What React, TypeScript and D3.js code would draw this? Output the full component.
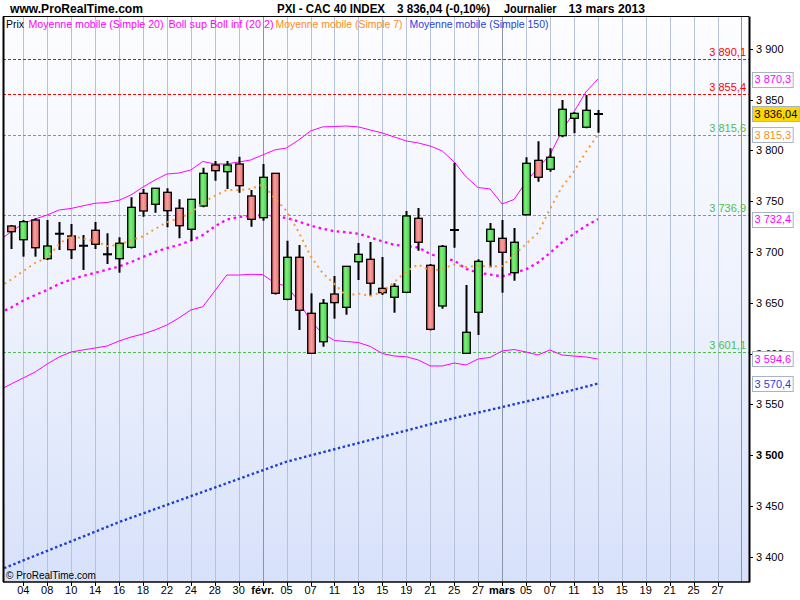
import React from "react";
import * as d3 from "d3";

// ---------- DATA ----------
// trading days (index 0 = 2 Jan 2013, only used by the indicators, off the left edge)
const tradingDates: string[] = [
  "2013-01-02", "2013-01-03", "2013-01-04", "2013-01-07", "2013-01-08", "2013-01-09", "2013-01-10", "2013-01-11",
  "2013-01-14", "2013-01-15", "2013-01-16", "2013-01-17", "2013-01-18", "2013-01-21", "2013-01-22", "2013-01-23",
  "2013-01-24", "2013-01-25", "2013-01-28", "2013-01-29", "2013-01-30", "2013-01-31", "2013-02-01", "2013-02-04",
  "2013-02-05", "2013-02-06", "2013-02-07", "2013-02-08", "2013-02-11", "2013-02-12", "2013-02-13", "2013-02-14",
  "2013-02-15", "2013-02-18", "2013-02-19", "2013-02-20", "2013-02-21", "2013-02-22", "2013-02-25", "2013-02-26",
  "2013-02-27", "2013-02-28", "2013-03-01", "2013-03-04", "2013-03-05", "2013-03-06", "2013-03-07", "2013-03-08",
  "2013-03-11", "2013-03-12", "2013-03-13", "2013-03-14", "2013-03-15", "2013-03-18", "2013-03-19", "2013-03-20",
  "2013-03-21", "2013-03-22", "2013-03-25", "2013-03-26", "2013-03-27", "2013-03-28", "2013-04-02",
];
const monthNames: string[] = ["janv.", "févr.", "mars", "avr."];

// candles: 3 Jan -> 13 Mar 2013 (index 1..50)
const open: number[] = [
  3725.6, 3712.1, 3731.5, 3693.4, 3718.0, 3715.8, 3706.2, 3721.4, 3697.7, 3693.4,
  3704.6, 3757.8, 3747.0, 3758.8, 3743.1, 3722.4, 3745.3, 3785.7, 3779.1, 3786.7,
  3755.2, 3733.8, 3777.5, 3653.4, 3694.8, 3639.6, 3611.6, 3658.6, 3645.5, 3690.4,
  3692.8, 3664.2, 3655.4, 3660.3, 3733.2, 3686.9, 3646.8, 3721.7, 3600.2, 3640.6,
  3710.5, 3713.5, 3679.6, 3736.7, 3790.3, 3781.5, 3814.6, 3831.7, 3822.9, 3836.3,
];
const high: number[] = [
  3726.6, 3731.5, 3733.2, 3731.5, 3729.6, 3727.6, 3716.7, 3729.6, 3718.4, 3714.5,
  3753.9, 3762.1, 3763.1, 3762.8, 3751.9, 3752.2, 3783.1, 3789.7, 3789.7, 3793.9,
  3761.1, 3786.7, 3777.8, 3711.1, 3706.9, 3659.3, 3653.7, 3676.4, 3686.2, 3708.9,
  3709.9, 3695.1, 3669.2, 3740.4, 3743.4, 3688.2, 3706.9, 3788.0, 3667.5, 3692.8,
  3728.6, 3731.5, 3723.6, 3793.3, 3809.1, 3802.2, 3849.8, 3837.6, 3854.7, 3839.9,
];
const low: number[] = [
  3703.0, 3695.4, 3695.4, 3692.1, 3702.0, 3693.1, 3682.3, 3703.0, 3688.2, 3679.6,
  3703.5, 3734.8, 3738.7, 3724.3, 3713.5, 3711.1, 3744.0, 3770.3, 3762.1, 3758.4,
  3724.9, 3730.8, 3658.1, 3652.5, 3623.2, 3599.5, 3606.7, 3634.3, 3638.2, 3672.4,
  3656.9, 3657.6, 3640.2, 3659.5, 3701.3, 3622.7, 3644.1, 3704.2, 3600.0, 3618.2,
  3684.9, 3659.9, 3671.7, 3736.0, 3769.3, 3779.1, 3813.0, 3816.9, 3822.0, 3817.5,
];
const close: number[] = [
  3720.0, 3729.9, 3704.2, 3705.9, 3718.0, 3702.3, 3706.2, 3707.6, 3697.7, 3708.6,
  3744.0, 3740.4, 3762.8, 3740.7, 3725.9, 3751.9, 3777.5, 3780.1, 3785.7, 3765.3,
  3732.2, 3773.6, 3659.3, 3694.8, 3642.6, 3600.2, 3649.5, 3650.1, 3685.9, 3697.7,
  3669.2, 3659.9, 3666.2, 3735.5, 3709.6, 3623.8, 3705.6, 3721.7, 3620.9, 3690.8,
  3722.4, 3699.7, 3709.6, 3787.4, 3773.6, 3793.3, 3840.6, 3836.6, 3839.6, 3836.04,
];

// indicators: 2 Jan -> 13 Mar 2013 (index 0..50)
const ma7: number[] = [
  3665.5, 3672.9, 3681.3, 3689.2, 3694.6, 3707.9, 3716.1, 3713.1, 3710.8, 3705.9,
  3706.9, 3711.8, 3715.3, 3722.7, 3729.3, 3733.2, 3738.4, 3748.6, 3755.2, 3761.1,
  3761.1, 3762.1, 3766.5, 3753.2, 3740.4, 3719.7, 3696.1, 3679.3, 3668.5, 3656.7,
  3659.1, 3656.7, 3660.6, 3670.4, 3680.8, 3687.7, 3681.3, 3683.3, 3687.7, 3685.2,
  3686.7, 3685.5, 3686.2, 3697.0, 3707.9, 3718.7, 3742.4, 3764.0, 3779.3, 3798.5,
  3815.3,
];
const ma20: number[] = [
  3639.9, 3645.3, 3652.2, 3657.6, 3662.6, 3668.5, 3672.9, 3676.4, 3679.5, 3682.6,
  3685.7, 3690.1, 3695.1, 3699.8, 3703.9, 3706.9, 3711.3, 3716.6, 3725.1, 3732.0,
  3734.5, 3735.5, 3736.5, 3735.0, 3733.5, 3730.0, 3726.1, 3722.9, 3720.4, 3719.4,
  3718.1, 3714.3, 3710.5, 3706.9, 3705.9, 3704.4, 3698.0, 3694.1, 3691.6, 3683.3,
  3679.6, 3677.8, 3675.9, 3679.3, 3682.8, 3689.7, 3699.0, 3709.4, 3718.0, 3725.6,
  3732.4,
];
const bollUp: number[] = [
  3711.3, 3720.2, 3728.1, 3732.5, 3736.5, 3741.4, 3742.9, 3745.5, 3748.0, 3748.8,
  3750.9, 3756.2, 3764.0, 3770.9, 3776.8, 3777.8, 3780.8, 3789.2, 3786.7, 3786.7,
  3788.7, 3790.6, 3795.6, 3800.5, 3802.5, 3810.3, 3819.2, 3823.2, 3823.6, 3824.1,
  3823.2, 3820.2, 3817.2, 3813.3, 3809.4, 3807.4, 3804.4, 3799.5, 3788.7, 3773.9,
  3763.5, 3762.1, 3747.3, 3751.7, 3769.0, 3782.8, 3795.6, 3819.2, 3837.9, 3857.6,
  3870.3,
];
const bollLow: number[] = [
  3564.0, 3570.0, 3575.9, 3581.8, 3589.7, 3596.6, 3601.5, 3603.5, 3605.4, 3607.4,
  3612.3, 3616.2, 3619.2, 3623.2, 3628.1, 3635.0, 3642.9, 3646.1, 3661.6, 3677.3,
  3677.3, 3678.0, 3677.8, 3669.5, 3666.2, 3651.7, 3632.0, 3619.7, 3612.8, 3611.8,
  3610.8, 3606.9, 3600.0, 3597.5, 3596.8, 3593.6, 3587.7, 3587.7, 3590.6, 3588.7,
  3594.6, 3596.1, 3602.5, 3603.9, 3601.5, 3598.5, 3603.5, 3598.5, 3597.5, 3596.6,
  3594.6,
];
const ma150: number[] = [
  3386.7, 3391.4, 3396.1, 3400.9, 3405.6, 3410.3, 3415.0, 3419.7, 3424.4, 3429.2,
  3433.9, 3438.2, 3442.4, 3446.7, 3450.9, 3455.2, 3459.4, 3463.7, 3467.9, 3472.2,
  3476.4, 3480.7, 3484.9, 3489.2, 3493.4, 3496.5, 3499.6, 3502.6, 3505.7, 3508.8,
  3511.8, 3514.9, 3518.0, 3521.1, 3524.1, 3527.2, 3530.3, 3533.3, 3536.4, 3539.1,
  3541.8, 3544.5, 3547.2, 3550.0, 3552.7, 3555.4, 3558.1, 3561.3, 3564.3, 3567.3,
  3570.4,
];

const redLevels: number[] = [3890.1, 3855.4];
const greenLevels: number[] = [3815.6, 3736.9, 3601.1];
const lastPrice = 3836.04;
const lastChangePct = -0.1;

const legendItems: { text: string; color: string; x: number; w: number }[] = [
  { text: "Prix", color: "#000000", x: 6, w: 18 },
  { text: "Moyenne mobile (Simple 20)", color: "#ff00ff", x: 28.5, w: 135 },
  { text: "Boll sup Boll inf (20 2)", color: "#ff00ff", x: 168.5, w: 105 },
  { text: "Moyenne mobile (Simple 7)", color: "#ff8c1a", x: 275.5, w: 127 },
  { text: "Moyenne mobile (Simple 150)", color: "#1f3fe0", x: 409.5, w: 139 },
];

// ---------- LAYOUT ----------
const W = 800;
const H = 600;
const PL = 3;
const PR = 749;
const PT = 16.5;
const PB = 582;
const FONT = "'Liberation Sans', Arial, sans-serif";

const loc = d3.formatLocale({ decimal: ",", thousands: " ", grouping: [3], currency: ["", "€"], minus: "-" });
const fmt0 = loc.format(",.0f");
const fmt1 = loc.format(",.1f");
const fmt2 = loc.format(",.2f");

const textW = (s: string) => {
  let w = 0;
  for (const ch of s) w += /[0-9]/.test(ch) ? 0.556 : 0.278;
  return w * 11;
};

export default function App() {
  const x = d3.scaleLinear().domain([0, 62]).range([-0.67, -0.67 + 62 * 11.97]);
  const y = d3.scaleLinear().domain([3374.9, 3931.5]).range([PB, PT + 0.5]);

  const line = d3
    .line<number>()
    .x((_, i) => x(i))
    .y((d) => y(d));

  const xTicks: { p: number; label: string; month: boolean }[] = [];
  for (let p = 2; p < tradingDates.length; p += 2) {
    const d = tradingDates[p];
    const prev = tradingDates[p - 1];
    const month = d.slice(5, 7) !== prev.slice(5, 7);
    const label = month ? monthNames[+d.slice(5, 7) - 1] : d.slice(8, 10);
    xTicks.push({ p, label, month });
  }

  const yTicks = y.ticks(10).filter((v) => v >= 3400 && v <= 3900);

  const boxes = [
    { v: bollUp[bollUp.length - 1], color: "#ff00ff", fill: "#ffffff", text: fmt1(bollUp[bollUp.length - 1]) },
    { v: lastPrice, color: "#000000", fill: "#ffd700", text: fmt2(lastPrice) },
    { v: ma7[ma7.length - 1], color: "#ff8c1a", fill: "#ffffff", text: fmt1(ma7[ma7.length - 1]) },
    { v: ma20[ma20.length - 1], color: "#ff00ff", fill: "#ffffff", text: fmt1(ma20[ma20.length - 1]) },
    { v: bollLow[bollLow.length - 1], color: "#ff00ff", fill: "#ffffff", text: fmt1(bollLow[bollLow.length - 1]) },
    { v: ma150[ma150.length - 1], color: "#1f3fe0", fill: "#ffffff", text: fmt1(ma150[ma150.length - 1]) },
  ];

  return (
    <svg
      width={W}
      height={H}
      viewBox={`0 0 ${W} ${H}`}
      style={{ position: "absolute", left: 0, top: 0, background: "#ffffff" }}
      fontFamily={FONT}
    >
      <defs>
        <linearGradient id="bg" x1="0" y1="0" x2="0" y2="1">
          <stop offset="0%" stopColor="#fdfdff" />
          <stop offset="50%" stopColor="#eef2fd" />
          <stop offset="100%" stopColor="#d7e1fa" />
        </linearGradient>
        <linearGradient id="gGreen" x1="0" y1="0" x2="1" y2="0">
          <stop offset="0%" stopColor="#48d448" />
          <stop offset="40%" stopColor="#7cee7c" />
          <stop offset="100%" stopColor="#44cc44" />
        </linearGradient>
        <linearGradient id="gRed" x1="0" y1="0" x2="1" y2="0">
          <stop offset="0%" stopColor="#e86464" />
          <stop offset="45%" stopColor="#f7a0a0" />
          <stop offset="100%" stopColor="#e86a6a" />
        </linearGradient>
        <clipPath id="plotClip">
          <rect x={PL} y={PT} width={PR - PL} height={PB - PT} />
        </clipPath>
      </defs>

      {/* header */}
      <text x={10} y={13} fontSize={12} fontWeight="bold" textLength={133} lengthAdjust="spacingAndGlyphs">
        www.ProRealTime.com
      </text>
      <text x={277} y={13} fontSize={12} fontWeight="bold" textLength={108} lengthAdjust="spacingAndGlyphs">
        PXI - CAC 40 INDEX
      </text>
      <text x={397} y={13} fontSize={12} fontWeight="bold" textLength={93} lengthAdjust="spacingAndGlyphs">
        {`${fmt2(lastPrice)} (${loc.format(".2f")(lastChangePct)}%)`}
      </text>
      <text x={504} y={13} fontSize={12} fontWeight="bold" textLength={52.5} lengthAdjust="spacingAndGlyphs">
        Journalier
      </text>
      <text x={568.5} y={13} fontSize={12} fontWeight="bold" textLength={76.5} lengthAdjust="spacingAndGlyphs">
        13 mars 2013
      </text>

      {/* plot background */}
      <rect x={PL} y={PT} width={PR - PL} height={PB - PT} fill="url(#bg)" />

      <g clipPath="url(#plotClip)">
        {/* vertical grid */}
        {xTicks.map((t) => (
          <line
            key={"g" + t.p}
            x1={Math.round(x(t.p)) + 0.5}
            x2={Math.round(x(t.p)) + 0.5}
            y1={PT}
            y2={PB}
            stroke={t.month ? "#8a94a8" : "#b6c1da"}
            strokeWidth={1}
          />
        ))}

        {/* horizontal levels */}
        {redLevels.map((v) => (
          <g key={"r" + v}>
            <line x1={PL} x2={PR} y1={Math.round(y(v)) + 0.5} y2={Math.round(y(v)) + 0.5} stroke="#ff0000" strokeDasharray="3,2" />
            <text x={746} y={Math.round(y(v)) - 3} fontSize={11} fill="#ff0000" textAnchor="end">
              {fmt1(v)}
            </text>
          </g>
        ))}
        {greenLevels.map((v) => (
          <g key={"gl" + v}>
            <line x1={PL} x2={PR} y1={Math.round(y(v)) + 0.5} y2={Math.round(y(v)) + 0.5} stroke="#4cbf4c" strokeDasharray="3,2" />
            <text x={746} y={Math.round(y(v)) - 3} fontSize={11} fill="#4cbf4c" textAnchor="end">
              {fmt1(v)}
            </text>
          </g>
        ))}

        {/* indicators */}
        <path d={line(ma150) || ""} fill="none" stroke="#1f3fd0" strokeWidth={2.4} strokeDasharray="2.5,2.5" />
        <path d={line(bollUp) || ""} fill="none" stroke="#ff00ff" strokeWidth={1} />
        <path d={line(bollLow) || ""} fill="none" stroke="#ff00ff" strokeWidth={1} />
        <path d={line(ma20) || ""} fill="none" stroke="#ff00ff" strokeWidth={2.3} strokeDasharray="2.6,3.6" />

        {/* candles */}
        {close.map((c, k) => {
          const p = k + 1;
          const o = open[k];
          const cx = Math.round(x(p)) + 0.5;
          const yo = y(o);
          const yc = y(c);
          const flat = Math.abs(yo - yc) < 1.2;
          return (
            <g key={"c" + p}>
              <line x1={cx} x2={cx} y1={y(high[k])} y2={y(low[k])} stroke="#000" strokeWidth={2} />
              {flat ? (
                <line x1={cx - 4.5} x2={cx + 4.5} y1={yc} y2={yc} stroke="#000" strokeWidth={2} />
              ) : (
                <rect
                  x={cx - 3.8}
                  y={Math.min(yo, yc)}
                  width={7.6}
                  height={Math.abs(yo - yc)}
                  fill={c > o ? "url(#gGreen)" : "url(#gRed)"}
                  stroke="#000"
                  strokeWidth={1.3}
                />
              )}
            </g>
          );
        })}

        <path d={line(ma7) || ""} fill="none" stroke="#ff9933" strokeWidth={2} strokeDasharray="2,4" />

        {/* legend */}
        {legendItems.map((it) => (
          <text key={it.text} x={it.x} y={28} fontSize={11} fill={it.color} textLength={it.w} lengthAdjust="spacingAndGlyphs">
            {it.text}
          </text>
        ))}
        <text x={6} y={579} fontSize={10} fill="#000">
          © ProRealTime.com
        </text>
      </g>

      {/* plot frame */}
      <line x1={PL} x2={PR} y1={PT} y2={PT} stroke="#000" strokeWidth={1} />
      <line x1={PL} x2={PR} y1={PB} y2={PB} stroke="#000" strokeWidth={1.5} />
      <line x1={PL + 0.5} x2={PL + 0.5} y1={PT} y2={PB} stroke="#000" strokeWidth={2} />
      <line x1={PR + 0.5} x2={PR + 0.5} y1={PT} y2={PB + 0.5} stroke="#000" strokeWidth={2} />

      {/* x axis */}
      {xTicks
        .filter((t) => x(t.p) < PR - 12)
        .map((t) => (
          <g key={"xt" + t.p}>
            <line x1={Math.round(x(t.p)) + 0.5} x2={Math.round(x(t.p)) + 0.5} y1={PB} y2={PB + 4} stroke="#000" />
            <text
              x={x(t.p)}
              y={594}
              fontSize={11}
              textAnchor="middle"
              fontWeight={t.month ? "bold" : "normal"}
              fill="#000"
            >
              {t.label}
            </text>
          </g>
        ))}

      {/* y axis */}
      {yTicks.map((v) => (
        <g key={"yt" + v}>
          <line x1={PR} x2={PR + 4} y1={Math.round(y(v)) + 0.5} y2={Math.round(y(v)) + 0.5} stroke="#000" />
          <text x={756} y={y(v) + 4} fontSize={11} fontWeight={v % 500 === 0 ? "bold" : "normal"} fill="#000">
            {fmt0(v)}
          </text>
        </g>
      ))}

      {/* value boxes */}
      {boxes.map((b) => {
        const w = textW(b.text) + 4;
        const cy = y(b.v);
        return (
          <g key={"b" + b.text}>
            <rect x={752.5} y={Math.round(cy - 7.5) + 0.5} width={w} height={15} fill={b.fill} stroke="#a7b4c8" />
            <text x={754.5} y={cy + 4} fontSize={11} fill={b.color}>
              {b.text}
            </text>
          </g>
        );
      })}
    </svg>
  );
}
